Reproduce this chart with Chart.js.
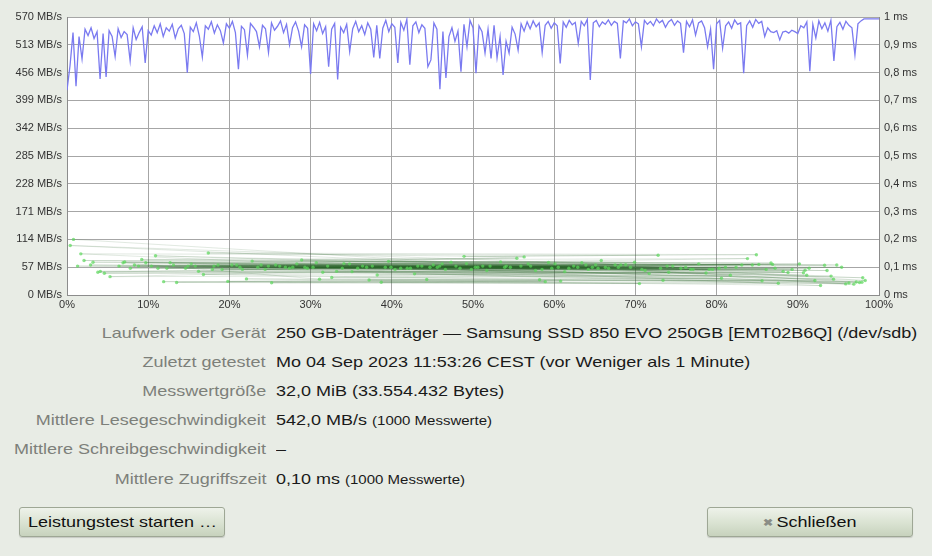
<!DOCTYPE html>
<html lang="de">
<head>
<meta charset="utf-8">
<title>Leistungstest</title>
<script src="https://cdn.jsdelivr.net/npm/chart.js@4.4.1/dist/chart.umd.min.js"></script>
<style>
  html, body { margin: 0; padding: 0; }
  body {
    width: 932px; height: 556px; overflow: hidden; position: relative;
    background: #e8ece5; font-family: "Liberation Sans", Arial, sans-serif;
  }
  #chart-wrap { position: absolute; left: 0; top: 0; width: 932px; height: 316px; }
  .row { position: absolute; left: 0; width: 932px; height: 24px; line-height: 24px; font-size: 15px; white-space: nowrap; }
  .row .k { position: absolute; right: 666px; color: #7d807a; transform: scaleX(1.2); transform-origin: right center; }
  .row .v { position: absolute; left: 276px; color: #1a1a1a; transform: scaleX(1.2); transform-origin: left center; }
  .row small { font-size: 12.5px; }
  .btn {
    position: absolute; top: 507px; width: 206px; height: 30px; box-sizing: border-box;
    border: 1px solid #9ea795; border-radius: 3px; font-size: 15px; line-height: 28px; color: #111;
    background: linear-gradient(#eef2ea, #d9e2d1 55%, #c7d2bd);
    box-shadow: 0 1px 1px rgba(0,0,0,.15); white-space: nowrap;
  }
  .btn .t { display: inline-block; transform: scaleX(1.2); }
  #btn-start { left: 19px; padding-left: 8px; }
  #btn-start .t { transform-origin: left center; }
  #btn-close { left: 707px; text-align: center; }
  #btn-close .t { transform-origin: center center; }
  #btn-close .x { color: #8a8d86; font-size: 10px; font-weight: bold; margin-right: 3px; vertical-align: 1px; }
</style>
</head>
<body>
<div id="chart-wrap"><canvas id="bench"></canvas></div>

<div class="row" style="top:321px"><span class="k">Laufwerk oder Gerät</span><span class="v">250 GB-Datenträger — Samsung SSD 850 EVO 250GB [EMT02B6Q] (/dev/sdb)</span></div>
<div class="row" style="top:350px"><span class="k">Zuletzt getestet</span><span class="v">Mo 04 Sep 2023 11:53:26 CEST (vor Weniger als 1 Minute)</span></div>
<div class="row" style="top:379px"><span class="k">Messwertgröße</span><span class="v">32,0 MiB (33.554.432 Bytes)</span></div>
<div class="row" style="top:408px"><span class="k">Mittlere Lesegeschwindigkeit</span><span class="v">542,0 MB/s <small>(1000 Messwerte)</small></span></div>
<div class="row" style="top:437px"><span class="k">Mittlere Schreibgeschwindigkeit</span><span class="v">–</span></div>
<div class="row" style="top:467px"><span class="k">Mittlere Zugriffszeit</span><span class="v">0,10 ms <small>(1000 Messwerte)</small></span></div>

<div class="btn" id="btn-start"><span class="t">Leistungstest starten …</span></div>
<div class="btn" id="btn-close"><span class="t"><span class="x">✖</span>Schließen</span></div>

<script>
// read speed samples (MB/s), evenly spread over the device 0..100 %
const readValues = [
  420, 470, 538, 428, 530, 484, 545, 532, 548, 526,
  540, 443, 536, 447, 542, 530, 489, 546, 528, 540,
  534, 480, 548, 524, 538, 550, 476, 542, 533, 552,
  538, 556, 530, 548, 541, 555, 527, 546, 553, 536,
  456, 549, 540, 558, 531, 488, 552, 545, 560, 537,
  554, 542, 517, 556, 547, 561, 538, 463, 551, 544,
  492, 557, 549, 540, 509, 553, 546, 497, 558, 543,
  551, 562, 538, 555, 513, 548, 560, 541, 509, 554,
  547, 453, 556, 542, 559, 536, 550, 468, 545, 557,
  442, 549, 538, 555, 499, 546, 561, 540, 552, 534,
  558, 545, 487, 553, 485, 547, 563, 540, 556, 549,
  476, 559, 543, 565, 472, 552, 560, 538, 554, 547,
  468, 482, 558, 545, 422, 540, 445, 530, 548, 520,
  541, 458, 555, 509, 563, 548, 455, 552, 540, 496,
  545, 485, 553, 486, 530, 451, 520, 496, 549, 535,
  502, 556, 541, 560, 546, 562, 550, 558, 497, 553,
  561, 547, 558, 552, 475, 560, 549, 563, 554, 559,
  516, 561, 552, 565, 441, 558, 563, 550, 560, 555,
  564, 553, 561, 557, 485, 562, 558, 566, 552, 560,
  556, 509, 563, 555, 561, 552, 566, 558, 563, 549,
  560, 565, 553, 562, 557, 497, 561, 550, 564, 533,
  558, 562, 548, 509, 545, 463, 556, 563, 506, 552,
  560, 547, 564, 555, 558, 455, 552, 562, 549, 565,
  557, 561, 530, 548, 540, 538, 542, 523, 539, 541,
  537, 543, 540, 536, 552, 548, 560, 459, 555, 527,
  562, 546, 558, 541, 563, 480, 550, 559, 545, 561,
  553, 548, 492, 556, 562, 566, 566, 566, 566, 566,
  566
];

// access time samples in test order: offset (% of device) and time (ms)
const accessPos = [
  0.8, 47.3, 83.1, 21.6, 62.4, 9.7, 35.8, 71.2, 95.4, 28.3,
  55.9, 14.6, 88.2, 41.1, 67.5, 3.2, 77.8, 50.6, 24.4, 92.1,
  37.2, 60.8, 11.9, 85.6, 44.3, 19.8, 73.4, 97.2, 31.5, 57.7,
  6.4, 80.3, 26.9, 65.1, 49.8, 16.2, 90.7, 39.6, 69.9, 2.1,
  53.4, 86.7, 22.8, 59.3, 34.1, 94.8, 12.7, 76.2, 45.9, 29.6,
  64.2, 8.3, 82.4, 51.7, 18.1, 96.3, 38.7, 70.5, 25.2, 58.9,
  13.5, 87.6, 42.8, 74.1, 4.6, 61.3, 33.2, 91.4, 20.3, 54.6,
  79.5, 10.4, 46.2, 66.7, 27.8, 93.6, 36.4, 1.7, 72.8, 48.9,
  84.9, 17.4, 56.3, 30.7, 98.0, 43.7, 7.8, 68.2, 23.5, 89.3,
  52.1, 15.3, 75.6, 39.9, 63.9, 5.3, 81.7, 32.6, 94.1, 57.1,
  11.2, 67.9, 45.1, 86.1, 26.2, 60.1, 3.8, 78.7, 35.1, 96.9,
  50.3, 19.1, 73.9, 41.9, 90.2, 9.2, 55.4, 28.9, 83.8, 65.8,
  14.9, 44.7, 70.8, 2.9, 61.8, 37.6, 92.8, 22.1, 58.2, 80.6,
  31.1, 6.9, 47.9, 87.2, 18.6, 64.7, 97.6, 40.4, 74.6, 12.3,
  53.9, 25.7, 85.2, 34.8, 68.8, 0.4, 49.2, 93.3, 20.9, 62.9,
  42.3, 8.8, 77.1, 29.3, 56.8, 95.9, 16.8, 71.7, 38.2, 88.8,
  4.1, 59.7, 24.8, 81.1, 46.6, 13.1, 66.3, 33.9, 91.1, 51.2,
  21.3, 76.8, 43.2, 7.1, 63.4, 98.3, 36.9, 84.4, 27.4, 54.1,
  10.9, 69.4, 48.4, 90.9, 17.9, 60.5, 32.1, 79.1, 1.3, 45.6,
  73.1, 23.9, 94.4, 39.2, 58.5, 15.8, 86.9, 30.3, 65.4, 97.9
];
const accessMs = [
  0.200, 0.118, 0.108, 0.092, 0.104, 0.116, 0.096, 0.088, 0.100, 0.112,
  0.104, 0.096, 0.085, 0.096, 0.108, 0.118, 0.112, 0.100, 0.092, 0.052,
  0.054, 0.050, 0.048, 0.051, 0.056, 0.049, 0.053, 0.047, 0.082, 0.088,
  0.104, 0.096, 0.100, 0.108, 0.092, 0.085, 0.080, 0.121, 0.118, 0.124,
  0.119, 0.115, 0.122, 0.117, 0.113, 0.108, 0.116, 0.100, 0.104, 0.096,
  0.092, 0.108, 0.100, 0.088, 0.104, 0.043, 0.046, 0.041, 0.044, 0.048,
  0.045, 0.042, 0.076, 0.082, 0.078, 0.084, 0.085, 0.096, 0.108, 0.100,
  0.092, 0.104, 0.112, 0.096, 0.100, 0.088, 0.104, 0.148, 0.143, 0.139,
  0.145, 0.151, 0.137, 0.116, 0.062, 0.104, 0.096, 0.108, 0.100, 0.092,
  0.104, 0.112, 0.096, 0.100, 0.108, 0.066, 0.071, 0.063, 0.068, 0.104,
  0.096, 0.100, 0.108, 0.092, 0.104, 0.112, 0.082, 0.079, 0.084, 0.039,
  0.100, 0.092, 0.104, 0.096, 0.112, 0.128, 0.132, 0.126, 0.131, 0.124,
  0.104, 0.100, 0.092, 0.108, 0.096, 0.104, 0.034, 0.058, 0.055, 0.060,
  0.057, 0.116, 0.104, 0.096, 0.108, 0.100, 0.045, 0.092, 0.104, 0.096,
  0.100, 0.108, 0.110, 0.112, 0.109, 0.178, 0.113, 0.107, 0.108, 0.100,
  0.096, 0.104, 0.092, 0.100, 0.112, 0.040, 0.074, 0.077, 0.072, 0.081,
  0.085, 0.096, 0.104, 0.100, 0.092, 0.108, 0.100, 0.096, 0.071, 0.104,
  0.100, 0.092, 0.104, 0.119, 0.116, 0.052, 0.100, 0.108, 0.096, 0.104,
  0.141, 0.100, 0.096, 0.089, 0.092, 0.100, 0.104, 0.092, 0.104, 0.100,
  0.096, 0.108, 0.057, 0.100, 0.092, 0.104, 0.110, 0.100, 0.096, 0.046
];

// axes
const speedMax = 570, speedStep = 57;
const timeMax = 1, timeStep = 0.1;
const posMax = 100, posStep = 10;

const tickFont = { family: "'Liberation Sans', Arial, sans-serif", size: 11 };
const tickColor = "#333";
const gridColor = "#a6a6a6";
const borderColor = "#8c8c8c";

const plotBg = {
  id: "plotBg",
  beforeDraw(c) {
    const { ctx, chartArea: a } = c;
    ctx.save();
    ctx.fillStyle = "#fff";
    ctx.fillRect(a.left, a.top, a.width, a.height);
    ctx.restore();
  },
};

const msLabel = (v) => {
  const r = Math.round(v * 10) / 10;
  if (r === 0) return "0 ms";
  if (r === 1) return "1 ms";
  return r.toFixed(1).replace(".", ",") + " ms";
};

new Chart(document.getElementById("bench").getContext("2d"), {
  type: "scatter",
  data: {
    datasets: [
      {
        data: readValues.map((v, i) => ({ x: (i * posMax) / (readValues.length - 1), y: v })),
        yAxisID: "y",
        showLine: true,
        borderColor: "rgb(122,122,240)",
        borderWidth: 1.3,
        pointRadius: 0,
        tension: 0,
      },
      {
        data: accessPos.map((p, i) => ({ x: p, y: accessMs[i] })),
        yAxisID: "y2",
        showLine: true,
        borderColor: "rgba(40,100,40,0.14)",
        borderWidth: 1,
        pointRadius: 1.7,
        pointBorderWidth: 0,
        pointBackgroundColor: "rgba(90,215,90,0.7)",
      },
    ],
  },
  options: {
    responsive: true, maintainAspectRatio: false, animation: false,
    layout: { padding: { top: 17, left: 0, right: 0, bottom: 0 } },
    plugins: { legend: { display: false }, tooltip: { enabled: false } },
    scales: {
      x: {
        type: "linear", min: 0, max: posMax,
        ticks: { stepSize: posStep, color: tickColor, font: tickFont, padding: 3, callback: (v) => v + "%" },
        grid: { color: gridColor, drawTicks: false },
        border: { color: borderColor },
        afterFit: (s) => { s.height = 21; },
      },
      y: {
        position: "left", min: 0, max: speedMax,
        ticks: { stepSize: speedStep, color: tickColor, font: tickFont, padding: 5, callback: (v) => Math.round(v) + " MB/s" },
        grid: { color: gridColor, drawTicks: false },
        border: { color: borderColor },
        afterFit: (s) => { s.width = 67; },
      },
      y2: {
        position: "right", min: 0, max: timeMax,
        ticks: { stepSize: timeStep, color: tickColor, font: tickFont, padding: 5, callback: msLabel },
        grid: { drawOnChartArea: false, drawTicks: false },
        border: { color: borderColor },
        afterFit: (s) => { s.width = 53; },
      },
    },
  },
  plugins: [plotBg],
});
</script>
</body>
</html>
